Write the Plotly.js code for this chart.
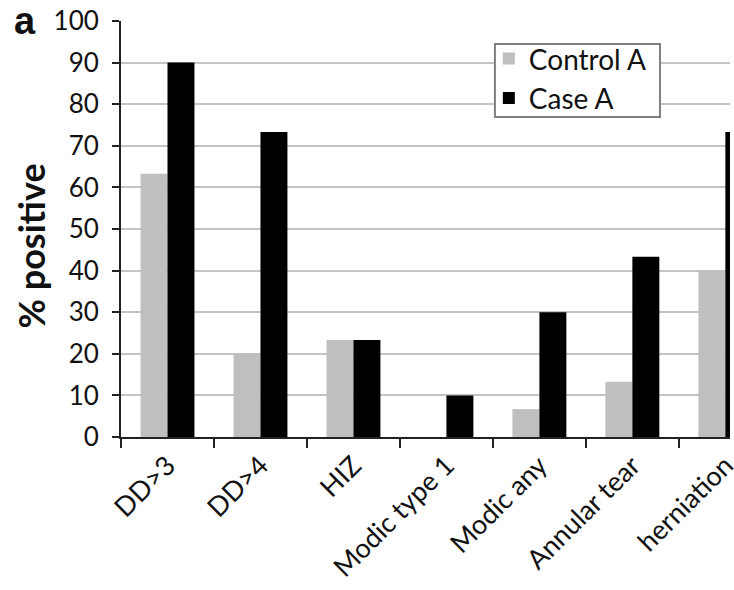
<!DOCTYPE html>
<html>
<head>
<meta charset="utf-8">
<script src="https://cdn.plot.ly/plotly-3.0.1.min.js"></script>
<style>html,body{margin:0;padding:0;background:#fff;}#chart{width:734px;height:590px;}</style>
</head>
<body>
<div id="chart"></div>
<script>
const categories = ["DD>3", "DD>4", "HIZ", "Modic type 1", "Modic any", "Annular tear", "herniation"];
const controlA = [63.3, 20, 23.3, 0, 6.7, 13.3, 40];
const caseA = [90, 73.3, 23.3, 10, 30, 43.3, 73.3];
const yTicks = [0, 10, 20, 30, 40, 50, 60, 70, 80, 90, 100];

const FONT = "Lato, 'Open Sans', sans-serif";

const traces = [
  {type: "bar", name: "Control A", x: categories, y: controlA, marker: {color: "#bfbfbf"}},
  {type: "bar", name: "Case A", x: categories, y: caseA, marker: {color: "#000000"}}
];

const layout = {
  width: 734, height: 590,
  margin: {l: 121, r: 4, t: 21, b: 153},
  paper_bgcolor: "#fff", plot_bgcolor: "#fff",
  font: {family: FONT, color: "#111"},
  barmode: "group", bargap: 0.42, bargroupgap: 0,
  showlegend: true,
  legend: {
    x: 0.604, y: 0.969, xanchor: "left", yanchor: "top",
    borderwidth: 0, bgcolor: "rgba(0,0,0,0)",
    font: {family: FONT, size: 28, color: "#111"},
    traceorder: "normal", itemwidth: 30
  },
  shapes: [
    {type: "rect", xref: "paper", yref: "paper", x0: 0.614, x1: 0.885, y0: 0.769, y1: 0.945,
     fillcolor: "#ffffff", line: {color: "#7f7f7f", width: 2}, layer: "above"}
  ],
  xaxis: {
    type: "category", range: [-0.5, 6.05],
    tickson: "boundaries", ticks: "outside", ticklen: 9, tickwidth: 2, tickcolor: "#222",
    showline: true, linecolor: "#222", linewidth: 2,
    tickangle: -45, tickfont: {family: FONT, size: 27, color: "#111"},
    showgrid: false, zeroline: false, fixedrange: true
  },
  yaxis: {
    range: [0, 100], tickvals: yTicks, ticktext: yTicks.map(String),
    ticks: "outside", ticklen: 7, tickwidth: 2, tickcolor: "#222",
    showline: true, linecolor: "#222", linewidth: 2,
    showgrid: true, gridcolor: "#c4c4c4", gridwidth: 2,
    zeroline: false, ticklabelstandoff: 8,
    tickfont: {family: FONT, size: 26, color: "#111"}
  },
  annotations: [
    {text: "% positive", xref: "paper", yref: "paper", x: -0.148, y: 0.46,
     xanchor: "center", yanchor: "middle", textangle: -90, showarrow: false,
     font: {family: FONT, size: 36, color: "#111", weight: "bold"}},
    {text: "<b>a</b>", xref: "paper", yref: "paper", x: -0.157, y: 1.0,
     xanchor: "center", yanchor: "middle", showarrow: false,
     font: {family: "Arial, 'Liberation Sans', sans-serif", size: 38, color: "#111"}}
  ]
};

Plotly.newPlot("chart", traces, layout, {displayModeBar: false, staticPlot: true});
</script>
</body>
</html>
